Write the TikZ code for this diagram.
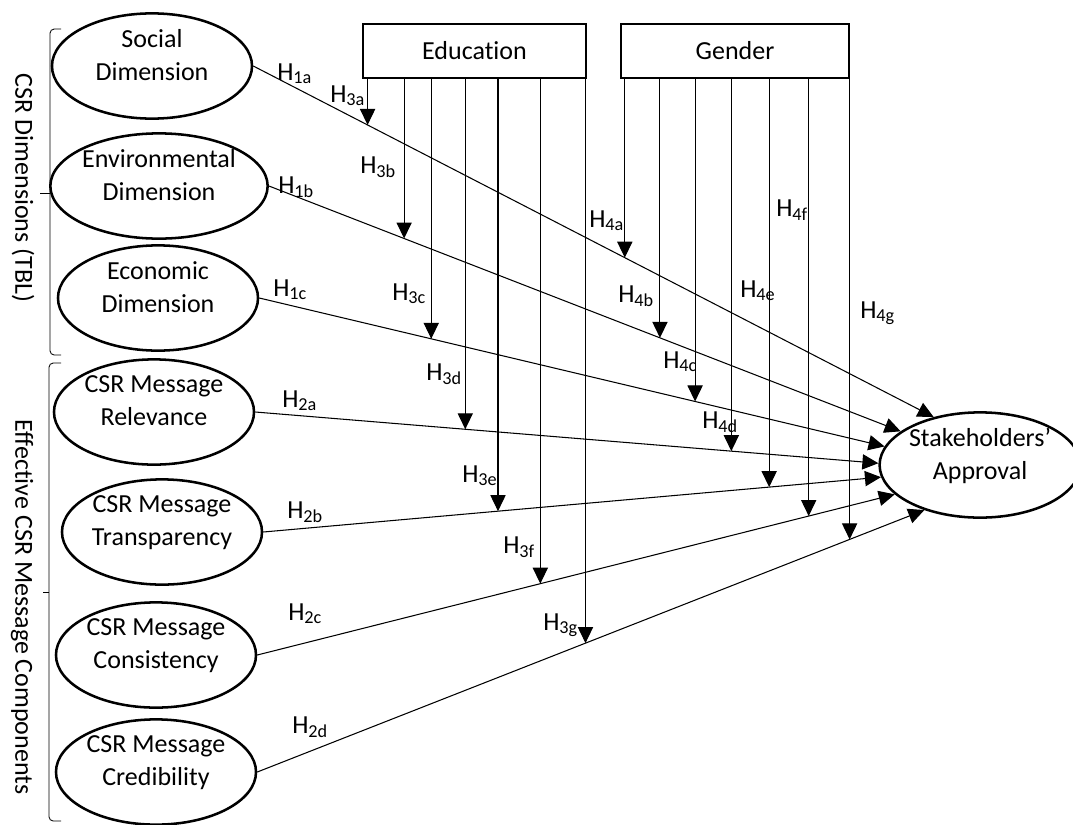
\documentclass[tikz,border=0pt]{standalone}
\usepackage{fontspec}
\setmainfont{Carlito}[Ligatures=NoCommon]
\usetikzlibrary{arrows.meta}
\usetikzlibrary{shapes}
\usetikzlibrary{scopes}

\tikzset{
	construct/.style={ellipse, draw, line width=1.8pt, minimum width=5cm, minimum height=2.63cm, inner sep=0pt, align=center, text depth=0.55cm},
	modbox/.style={rectangle, draw, line width=1.8pt, minimum height=1.35cm, inner sep=0pt},
	link/.style={line width=0.75pt, -{Triangle[length=0.4cm,width=0.38cm]}},
	hyp/.style={anchor=base west, inner sep=0pt},
	brace/.style={line width=0.6pt, rounded corners=3pt}
}

\begin{document}
\begin{tikzpicture}[x=0.025cm, y=-0.025cm, font=\fontsize{18.5pt}{23.4pt}\selectfont]
		\useasboundingbox (0,0) rectangle (1073,824);
		\node[construct] (soc) at (152,66) {Social\\Dimension};
		\node[construct] (env) at (159,186) {Environmental\\Dimension};
		\node[construct] (eco) at (158,298) {Economic\\Dimension};
		\node[construct] (rel) at (154,412) {CSR Message\\Relevance};
		\node[construct] (tra) at (162,532) {CSR Message\\Transparency};
		\node[construct] (con) at (156,655) {CSR Message\\Consistency};
		\node[construct] (cre) at (156,772) {CSR Message\\Credibility};
		\node[construct, minimum width=4.65cm] (stake) at (980,465) {Stakeholders’\\Approval};
		\node[modbox, minimum width=5.575cm] (edu) at (474.5,51) {Education};
		\node[modbox, minimum width=5.7cm] (gen) at (735,51) {Gender};
		\node[rotate=-90] (dimlab) at (23,188) {CSR Dimensions (TBL)};
		\node[rotate=-90] (msglab) at (22,607) {Effective CSR Message Components};
		\begin{scope}[brace]
			\draw (61,29) -- (50,29) -- (50,355) -- (61,355);
			\draw (50,193) -- (40,193);
			\draw (61,363) -- (49,363) -- (49,821) -- (61,821);
			\draw (49,592) -- (43,592);
		\end{scope}
		\begin{scope}[link]
			\draw (soc.east) -- coordinate[pos=0.168] (m3a) coordinate[pos=0.546] (m4a) (stake.134);
			\draw (env.east) -- coordinate[pos=0.214] (m3b) coordinate[pos=0.619] (m4b) (stake.157);
			\draw (eco.east) -- coordinate[pos=0.275] (m3c) coordinate[pos=0.697] (m4c) (stake.169);
			\draw (rel.east) -- coordinate[pos=0.337] (m3d) coordinate[pos=0.764] (m4d) (stake.179);
			\draw (tra.east) -- coordinate[pos=0.380] (m3e) coordinate[pos=0.819] (m4e) (stake.187);
			\draw (con.east) -- coordinate[pos=0.444] (m3f) coordinate[pos=0.865] (m4f) (stake.199);
			\draw (cre.east) -- coordinate[pos=0.492] (m3g) coordinate[pos=0.888] (m4g) (stake.219);
		\end{scope}
		\begin{scope}[link]
			\draw (edu.south -| m3a) -- (m3a);
			\draw (edu.south -| m3b) -- (m3b);
			\draw (edu.south -| m3c) -- (m3c);
			\draw (edu.south -| m3d) -- (m3d);
			\draw (edu.south -| m3e) -- (m3e);
			\draw (edu.south -| m3f) -- (m3f);
			\draw (edu.south -| m3g) -- (m3g);
			\draw (gen.south -| m4a) -- (m4a);
			\draw (gen.south -| m4b) -- (m4b);
			\draw (gen.south -| m4c) -- (m4c);
			\draw (gen.south -| m4d) -- (m4d);
			\draw (gen.south -| m4e) -- (m4e);
			\draw (gen.south -| m4f) -- (m4f);
			\draw (gen.south -| m4g) -- (m4g);
		\end{scope}
		\begin{scope}[every node/.style={hyp}]
			\node (h1a) at (277,80) {H\textsubscript{1a}};
			\node (h1b) at (278,193) {H\textsubscript{1b}};
			\node (h1c) at (273,296) {H\textsubscript{1c}};
			\node (h2a) at (282,407) {H\textsubscript{2a}};
			\node (h2b) at (287,518) {H\textsubscript{2b}};
			\node (h2c) at (288,620) {H\textsubscript{2c}};
			\node (h2d) at (292,733) {H\textsubscript{2d}};
			\node (h3a) at (330,102) {H\textsubscript{3a}};
			\node (h3b) at (360,173) {H\textsubscript{3b}};
			\node (h3c) at (392,300) {H\textsubscript{3c}};
			\node (h3d) at (426,380) {H\textsubscript{3d}};
			\node (h3e) at (462,482) {H\textsubscript{3e}};
			\node (h3f) at (503,553) {H\textsubscript{3f}};
			\node (h3g) at (543,630) {H\textsubscript{3g}};
			\node (h4a) at (589,227) {H\textsubscript{4a}};
			\node (h4b) at (618,302) {H\textsubscript{4b}};
			\node (h4c) at (663,368) {H\textsubscript{4c}};
			\node (h4d) at (702,428) {H\textsubscript{4d}};
			\node (h4e) at (740,297) {H\textsubscript{4e}};
			\node (h4f) at (776,216) {H\textsubscript{4f}};
			\node (h4g) at (860,318) {H\textsubscript{4g}};
		\end{scope}
	\end{tikzpicture}
\end{document}
